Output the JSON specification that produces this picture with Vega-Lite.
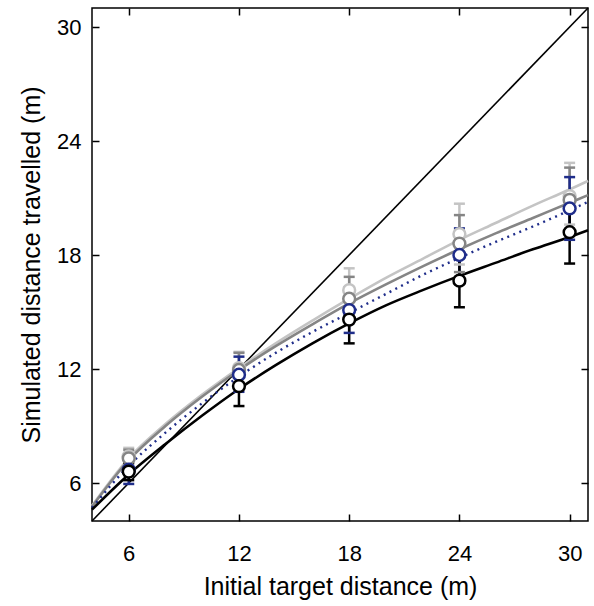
{
  "$schema": "https://vega.github.io/schema/vega-lite/v6.json",
  "width": 496,
  "height": 513,
  "autosize": {"type": "none"},
  "padding": {"left": 92, "top": 8, "right": 6, "bottom": 85},
  "background": "white",
  "config": {
    "view": {"stroke": "black", "strokeWidth": 1.5},
    "font": "Liberation Sans",
    "axis": {
      "labelFont": "Liberation Sans",
      "titleFont": "Liberation Sans",
      "labelFontSize": 22,
      "titleFontSize": 25,
      "titleFontWeight": "normal",
      "labelColor": "black",
      "titleColor": "black",
      "tickColor": "black",
      "tickWidth": 1.5,
      "domain": false,
      "grid": false
    }
  },
  "datasets": {
    "diag": [{"x": 4, "y": 4}, {"x": 31, "y": 31}],
    "lines": [
      {"s": "A", "x": 4, "y": 4.8}, {"s": "A", "x": 6, "y": 7.3}, {"s": "A", "x": 8, "y": 9.1}, {"s": "A", "x": 10, "y": 10.65}, {"s": "A", "x": 12, "y": 12.05}, {"s": "A", "x": 14, "y": 13.35}, {"s": "A", "x": 16, "y": 14.55}, {"s": "A", "x": 18, "y": 15.7}, {"s": "A", "x": 20, "y": 16.8}, {"s": "A", "x": 22, "y": 17.8}, {"s": "A", "x": 24, "y": 18.8}, {"s": "A", "x": 26, "y": 19.7}, {"s": "A", "x": 28, "y": 20.6}, {"s": "A", "x": 30, "y": 21.45}, {"s": "A", "x": 31, "y": 21.9},
      {"s": "B", "x": 4, "y": 4.75}, {"s": "B", "x": 6, "y": 7.2}, {"s": "B", "x": 8, "y": 9.0}, {"s": "B", "x": 10, "y": 10.55}, {"s": "B", "x": 12, "y": 11.95}, {"s": "B", "x": 14, "y": 13.2}, {"s": "B", "x": 16, "y": 14.35}, {"s": "B", "x": 18, "y": 15.45}, {"s": "B", "x": 20, "y": 16.45}, {"s": "B", "x": 22, "y": 17.4}, {"s": "B", "x": 24, "y": 18.3}, {"s": "B", "x": 26, "y": 19.15}, {"s": "B", "x": 28, "y": 19.95}, {"s": "B", "x": 30, "y": 20.75}, {"s": "B", "x": 31, "y": 21.15},
      {"s": "C", "x": 4, "y": 4.7}, {"s": "C", "x": 6, "y": 6.9}, {"s": "C", "x": 8, "y": 8.65}, {"s": "C", "x": 10, "y": 10.2}, {"s": "C", "x": 12, "y": 11.6}, {"s": "C", "x": 14, "y": 12.85}, {"s": "C", "x": 16, "y": 13.95}, {"s": "C", "x": 18, "y": 14.95}, {"s": "C", "x": 20, "y": 15.95}, {"s": "C", "x": 22, "y": 16.95}, {"s": "C", "x": 24, "y": 17.85}, {"s": "C", "x": 26, "y": 18.7}, {"s": "C", "x": 28, "y": 19.5}, {"s": "C", "x": 30, "y": 20.35}, {"s": "C", "x": 31, "y": 20.8},
      {"s": "D", "x": 4, "y": 4.6}, {"s": "D", "x": 6, "y": 6.45}, {"s": "D", "x": 8, "y": 8.05}, {"s": "D", "x": 10, "y": 9.55}, {"s": "D", "x": 12, "y": 10.95}, {"s": "D", "x": 14, "y": 12.2}, {"s": "D", "x": 16, "y": 13.35}, {"s": "D", "x": 18, "y": 14.4}, {"s": "D", "x": 20, "y": 15.35}, {"s": "D", "x": 22, "y": 16.15}, {"s": "D", "x": 24, "y": 16.9}, {"s": "D", "x": 26, "y": 17.6}, {"s": "D", "x": 28, "y": 18.3}, {"s": "D", "x": 30, "y": 18.95}, {"s": "D", "x": 31, "y": 19.3}
    ],
    "pts": [
      {"s": "A", "x": 6, "m": 7.4, "lo": 6.95, "hi": 7.85},
      {"s": "A", "x": 12, "m": 12.05, "lo": 11.2, "hi": 12.9},
      {"s": "A", "x": 18, "m": 16.15, "lo": 15.0, "hi": 17.3},
      {"s": "A", "x": 24, "m": 19.1, "lo": 17.5, "hi": 20.7},
      {"s": "A", "x": 30, "m": 21.1, "lo": 19.6, "hi": 22.85},
      {"s": "B", "x": 6, "m": 7.3, "lo": 6.85, "hi": 7.75},
      {"s": "B", "x": 12, "m": 11.95, "lo": 11.1, "hi": 12.85},
      {"s": "B", "x": 18, "m": 15.7, "lo": 14.6, "hi": 16.85},
      {"s": "B", "x": 24, "m": 18.6, "lo": 17.1, "hi": 20.1},
      {"s": "B", "x": 30, "m": 20.9, "lo": 19.1, "hi": 22.6},
      {"s": "C", "x": 6, "m": 6.7, "lo": 5.95, "hi": 7.45},
      {"s": "C", "x": 12, "m": 11.7, "lo": 10.8, "hi": 12.65},
      {"s": "C", "x": 18, "m": 15.1, "lo": 13.9, "hi": 16.3},
      {"s": "C", "x": 24, "m": 18.0, "lo": 16.6, "hi": 19.4},
      {"s": "C", "x": 30, "m": 20.45, "lo": 18.8, "hi": 22.1},
      {"s": "D", "x": 6, "m": 6.6, "lo": 6.15, "hi": 7.05},
      {"s": "D", "x": 12, "m": 11.1, "lo": 10.05, "hi": 12.1},
      {"s": "D", "x": 18, "m": 14.6, "lo": 13.35, "hi": 15.8},
      {"s": "D", "x": 24, "m": 16.65, "lo": 15.25, "hi": 18.05},
      {"s": "D", "x": 30, "m": 19.2, "lo": 17.55, "hi": 20.85}
    ]
  },
  "resolve": {"axis": {"x": "independent", "y": "independent"}},
  "layer": [
    {
      "layer": [
        {
          "data": {"name": "diag"},
          "mark": {"type": "line", "color": "black", "strokeWidth": 1.6},
          "encoding": {
            "x": {"field": "x", "type": "quantitative", "title": "Initial target distance (m)",
                  "scale": {"domain": [4, 31], "nice": false, "zero": false},
                  "axis": {"orient": "bottom", "values": [6, 12, 18, 24, 30], "tickSize": -7, "labelPadding": 29, "titlePadding": 10}},
            "y": {"field": "y", "type": "quantitative", "title": "Simulated distance travelled (m)",
                  "scale": {"domain": [4, 31], "nice": false, "zero": false},
                  "axis": {"orient": "left", "values": [6, 12, 18, 24, 30], "tickSize": -7, "labelPadding": 18, "titlePadding": 12}}
          }
        },
        {
          "data": {"name": "lines"},
          "transform": [{"filter": "datum.s == 'A'"}],
          "mark": {"type": "line", "color": "#c4c4c4", "strokeWidth": 2.6, "interpolate": "monotone"},
          "encoding": {
            "x": {"field": "x", "type": "quantitative", "title": "Initial target distance (m)"},
            "y": {"field": "y", "type": "quantitative", "title": "Simulated distance travelled (m)"}
          }
        },
        {
          "data": {"name": "lines"},
          "transform": [{"filter": "datum.s == 'B'"}],
          "mark": {"type": "line", "color": "#858585", "strokeWidth": 2.6, "interpolate": "monotone"},
          "encoding": {
            "x": {"field": "x", "type": "quantitative", "title": "Initial target distance (m)"},
            "y": {"field": "y", "type": "quantitative", "title": "Simulated distance travelled (m)"}
          }
        },
        {
          "data": {"name": "lines"},
          "transform": [{"filter": "datum.s == 'C'"}],
          "mark": {"type": "line", "color": "#1f2d8a", "strokeWidth": 2.4, "strokeDash": [2, 4.5], "interpolate": "monotone"},
          "encoding": {
            "x": {"field": "x", "type": "quantitative", "title": "Initial target distance (m)"},
            "y": {"field": "y", "type": "quantitative", "title": "Simulated distance travelled (m)"}
          }
        },
        {
          "data": {"name": "lines"},
          "transform": [{"filter": "datum.s == 'D'"}],
          "mark": {"type": "line", "color": "black", "strokeWidth": 2.6, "interpolate": "monotone"},
          "encoding": {
            "x": {"field": "x", "type": "quantitative", "title": "Initial target distance (m)"},
            "y": {"field": "y", "type": "quantitative", "title": "Simulated distance travelled (m)"}
          }
        },
        {
          "data": {"name": "pts"},
          "mark": {"type": "rule", "strokeWidth": 2.5},
          "encoding": {
            "x": {"field": "x", "type": "quantitative", "title": "Initial target distance (m)"},
            "y": {"field": "lo", "type": "quantitative", "title": "Simulated distance travelled (m)"},
            "y2": {"field": "hi"},
            "color": {"field": "s", "type": "nominal", "legend": null,
                      "scale": {"domain": ["A", "B", "C", "D"], "range": ["#c4c4c4", "#858585", "#1f2d8a", "#000000"]}}
          }
        },
        {
          "data": {"name": "pts"},
          "mark": {"type": "tick", "orient": "horizontal", "size": 11, "thickness": 2.5, "opacity": 1},
          "encoding": {
            "x": {"field": "x", "type": "quantitative", "title": "Initial target distance (m)"},
            "y": {"field": "lo", "type": "quantitative", "title": "Simulated distance travelled (m)"},
            "color": {"field": "s", "type": "nominal", "legend": null}
          }
        },
        {
          "data": {"name": "pts"},
          "mark": {"type": "tick", "orient": "horizontal", "size": 11, "thickness": 2.5, "opacity": 1},
          "encoding": {
            "x": {"field": "x", "type": "quantitative", "title": "Initial target distance (m)"},
            "y": {"field": "hi", "type": "quantitative", "title": "Simulated distance travelled (m)"},
            "color": {"field": "s", "type": "nominal", "legend": null}
          }
        },
        {
          "data": {"name": "pts"},
          "mark": {"type": "point", "shape": "circle", "fill": "white", "fillOpacity": 1, "opacity": 1, "strokeWidth": 2.5, "size": 140},
          "encoding": {
            "x": {"field": "x", "type": "quantitative", "title": "Initial target distance (m)"},
            "y": {"field": "m", "type": "quantitative", "title": "Simulated distance travelled (m)"},
            "stroke": {"field": "s", "type": "nominal", "legend": null,
                       "scale": {"domain": ["A", "B", "C", "D"], "range": ["#c4c4c4", "#858585", "#1f2d8a", "#000000"]}}
          }
        }
      ]
    },
    {
      "data": {"name": "diag"},
      "mark": {"type": "point", "opacity": 0},
      "encoding": {
        "x": {"field": "x", "type": "quantitative",
              "axis": {"orient": "top", "values": [6, 12, 18, 24, 30], "tickSize": -7, "labels": false, "title": null}},
        "y": {"field": "y", "type": "quantitative",
              "axis": {"orient": "right", "values": [6, 12, 18, 24, 30], "tickSize": -7, "labels": false, "title": null}}
      }
    }
  ]
}
